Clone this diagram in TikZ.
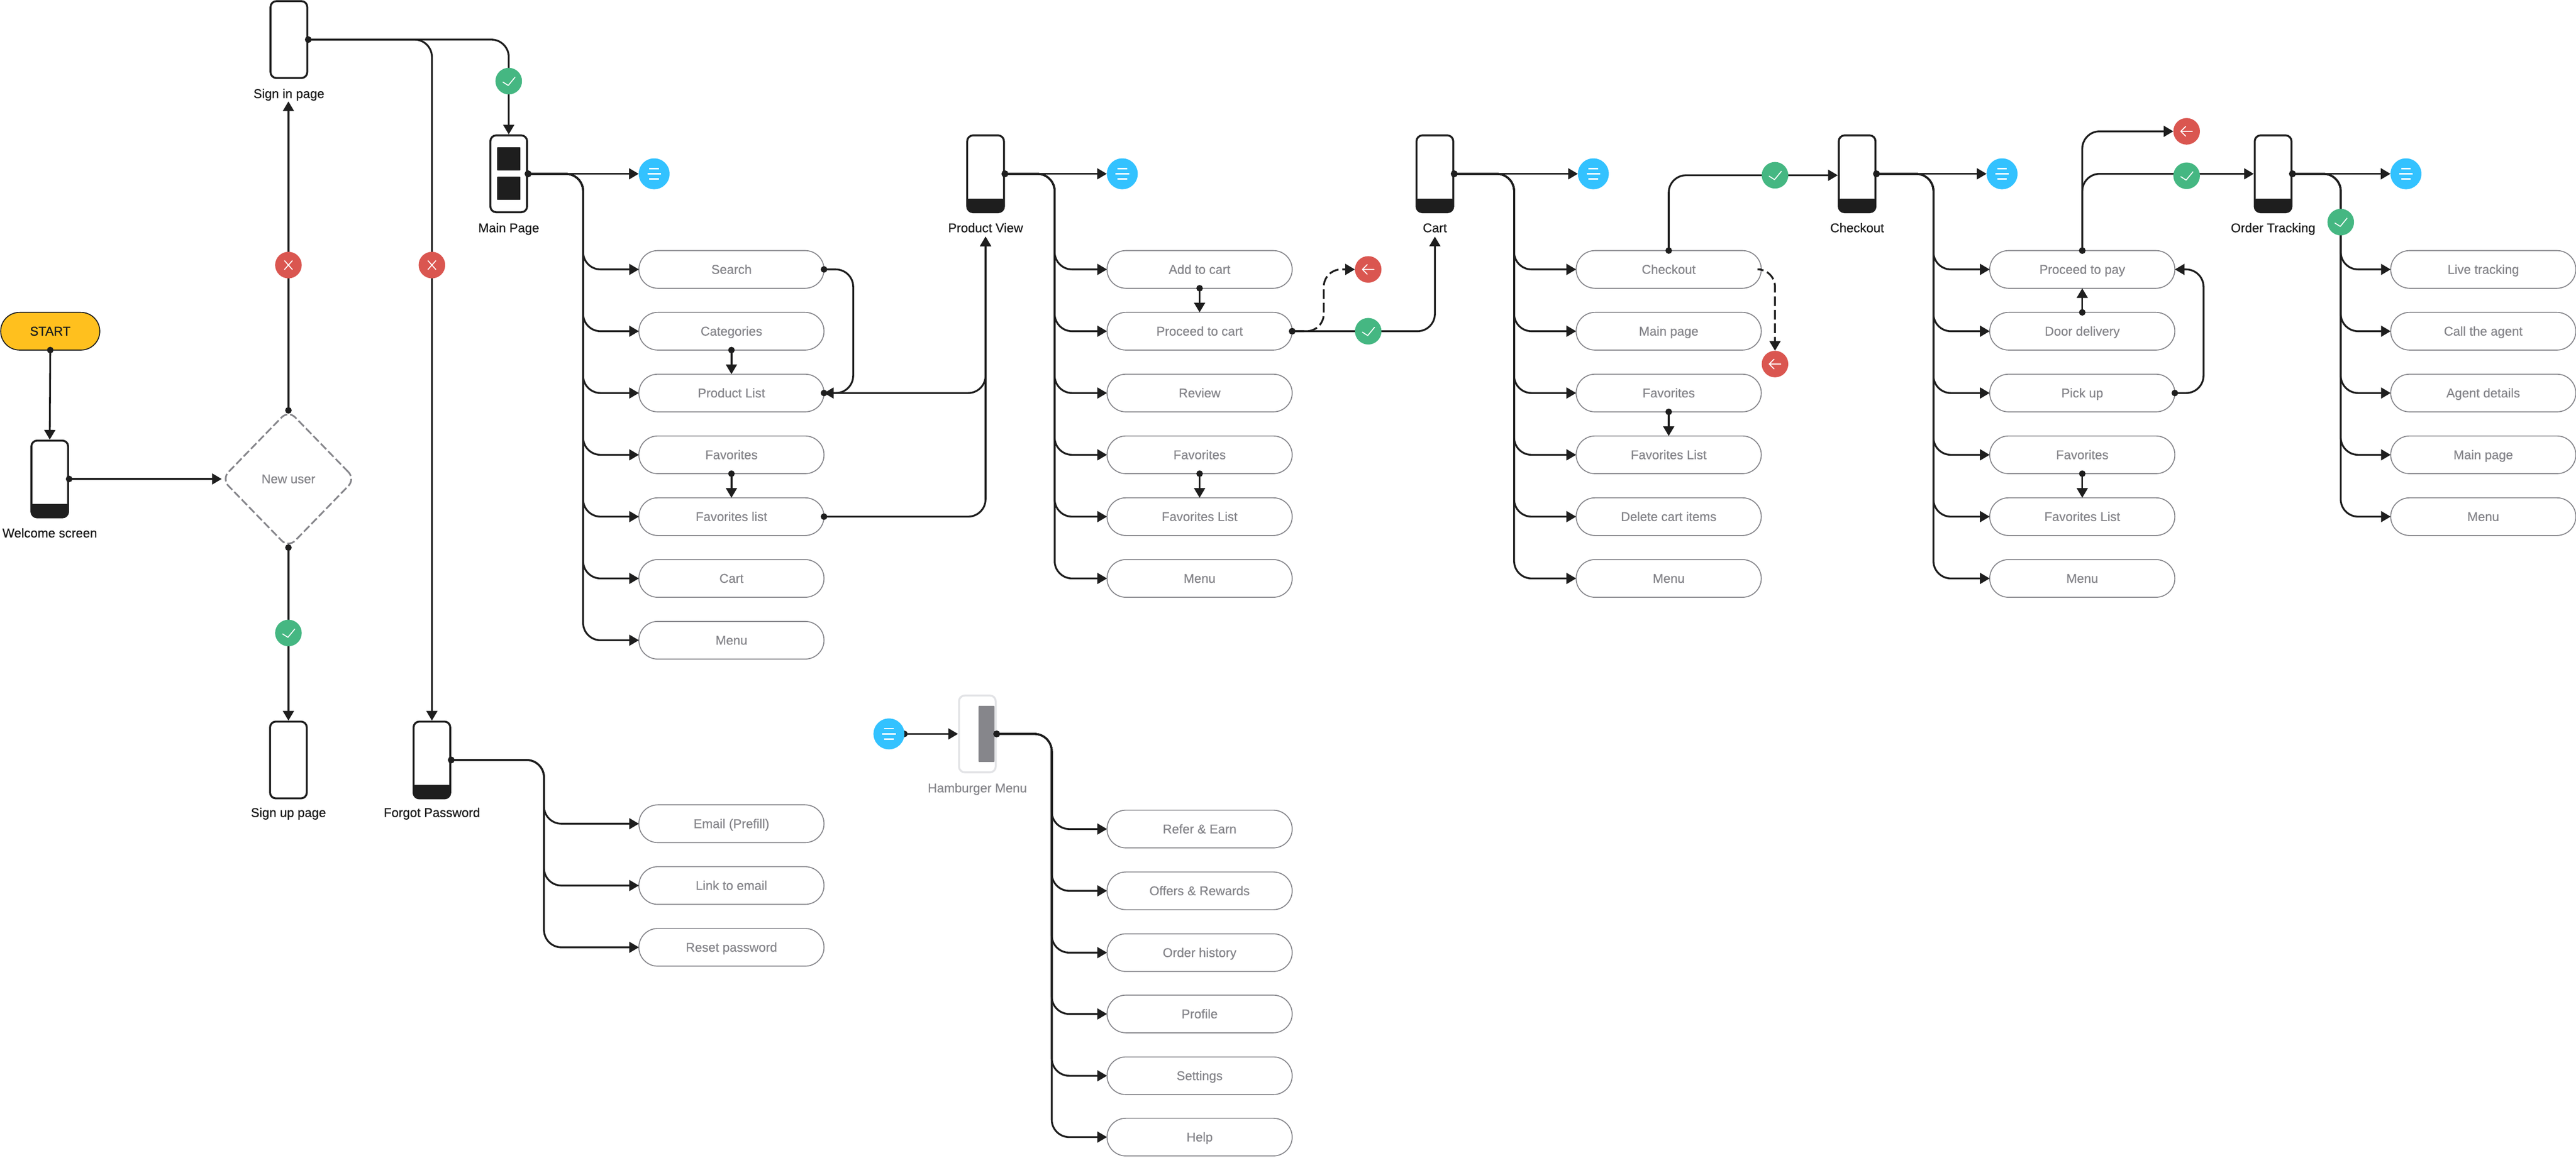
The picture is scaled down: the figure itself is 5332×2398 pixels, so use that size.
\documentclass[tikz,border=0pt]{standalone}
\usepackage{fontspec}
\usepackage{xcolor}
\usetikzlibrary{shapes,arrows.meta}
\newfontfamily\flowfont[FakeBold=0.7]{Liberation Sans}

\definecolor{ink}{HTML}{1E1E1E}
\definecolor{muted}{HTML}{86868B}
\definecolor{startfill}{HTML}{FFC01E}
\definecolor{okgreen}{HTML}{45B782}
\definecolor{backred}{HTML}{DA5650}
\definecolor{menublue}{HTML}{33C2FF}
\definecolor{ghost}{HTML}{E2E3E6}

\pgfdeclarelayer{front}
\pgfsetlayers{main,front}

\tikzset{
  every node/.style={outer sep=0pt, inner sep=0pt},
  phone/.style={draw=ink, line width=.04cm, rounded corners=.12cm, minimum width=.76cm, minimum height=1.59cm, outer sep=.02cm},
  phonebar/.style={phone, path picture={\fill[ink, rounded corners=.03cm] ([yshift=.28cm]path picture bounding box.south west) rectangle (path picture bounding box.south east);}},
  tile/.style={fill=ink, minimum width=.48cm, minimum height=.48cm, rounded corners=.01cm},
  phonelabel/.style={text=ink, font=\flowfont\fontsize{7.5}{9}\selectfont, text height=1.5ex, text depth=.3ex},
  pill/.style={draw=muted, line width=.02cm, shape=rounded rectangle, minimum width=3.83cm, minimum height=.78cm, text=muted, font=\flowfont\fontsize{7.5}{9}\selectfont, text height=1.5ex, text depth=.3ex},
  startpill/.style={pill, draw=ink, fill=startfill, text=ink, minimum width=2.05cm},
  decision/.style={shape=diamond, draw=muted, line width=.035cm, dash pattern=on .16cm off .06cm, rounded corners=.2cm, minimum width=2.76cm, minimum height=2.84cm, text=muted, font=\flowfont\fontsize{7.5}{9}\selectfont},
  badge/.style={circle, minimum size=.55cm},
  icon/.style={white, line width=.02cm, line cap=round, line join=round},
  okbadge/.style={badge, fill=okgreen, path picture={\draw[icon, shift={(path picture bounding box.center)}] (-12,2) -- (-1,9) -- (13,-8);}},
  nobadge/.style={badge, fill=backred, path picture={\draw[icon, shift={(path picture bounding box.center)}] (-8,-9) -- (8,9) (-8,9) -- (8,-9);}},
  backbadge/.style={badge, fill=backred, path picture={\draw[icon, shift={(path picture bounding box.center)}] (12,0) -- (-12,0) (-2,-10) -- (-12,0) -- (-2,10);}},
  menubadge/.style={circle, fill=menublue, minimum size=.64cm, path picture={\draw[icon, line width=.03cm, line cap=butt, shift={(path picture bounding box.center)}] (-10,-11) -- (10,-11) (-14,0) -- (14,0) (-10,11) -- (10,11);}},
  link/.style={draw=ink, line width=.038cm, rounded corners=.36cm},
  flow/.style={link, {Circle[length=3.8pt]}-{Triangle[length=5.7pt,width=6.4pt]}, shorten <=-1.9pt},
  dashflow/.style={flow, dash pattern=on .2cm off .08cm},
  dashend/.style={link, -{Triangle[length=5.7pt,width=6.4pt]}, dash pattern=on .2cm off .08cm}
}

\begin{document}
\begin{tikzpicture}[x=.01cm, y=-.01cm]
    \useasboundingbox (0,0) rectangle (5332,2398);

    % Entry and decision
    \node[startpill] (start) at (104,686) {START};
    \node[phonebar] (welcome) at (103,992) {};
    \node[phonelabel] (welcomelabel) at (103,1104) {Welcome screen};
    \node[decision] (newuser) at (597,992) {New user};
    \node[phone] (signin) at (598,82) {};
    \node[phonelabel] (signinlabel) at (598,194) {Sign in page};
    \node[phone] (signup) at (597,1574) {};
    \node[phonelabel] (signuplabel) at (597,1683) {Sign up page};
    \node[phonebar] (forgot) at (894,1574) {};
    \node[phonelabel] (forgotlabel) at (894,1683) {Forgot Password};

    % Screens along the top
    \node[phone] (main) at (1053,360) {};
    \node[tile] (maintop) at (1053,329) {};
    \node[tile] (mainbottom) at (1053,390) {};
    \node[phonelabel] (mainlabel) at (1053,472) {Main Page};
    \foreach \nm/\x/\txt in {view/2040/Product View, cart/2970/Cart, pay/3844/Checkout, track/4705/Order Tracking} {
        \node[phonebar] (\nm) at (\x,360) {};
        \node[phonelabel] (\nm label) at (\x,472) {\txt};
    }

    % Hamburger screen (greyed)
    \node[phone, draw=ghost] (burger) at (2023,1520) {};
    \node[fill=muted, minimum width=.33cm, minimum height=1.16cm, rounded corners=.01cm] (burgerpanel) at (2042,1520) {};
    \node[phonelabel, text=muted] (burgerlabel) at (2023,1632) {Hamburger Menu};

    % Option pills, one list per column
    \foreach \nm/\y/\txt in {search/558/Search, categories/686/Categories, plist/814/Product List, mainfav/942/Favorites, mainfavlist/1070/Favorites list, maincart/1198/Cart, mainmenu/1326/Menu, email/1706/Email (Prefill), maillink/1834/Link to email, reset/1962/Reset password}
        \node[pill] (\nm) at (1514,\y) {\txt};
    \foreach \nm/\y/\txt in {addcart/558/Add to cart, gocart/686/Proceed to cart, review/814/Review, viewfav/942/Favorites, viewfavlist/1070/Favorites List, viewmenu/1198/Menu, refer/1717/Refer \& Earn, offers/1845/Offers \& Rewards, history/1973/Order history, profile/2100/Profile, settings/2228/Settings, help/2355/Help}
        \node[pill] (\nm) at (2483,\y) {\txt};
    \foreach \nm/\y/\txt in {checkout/558/Checkout, cartmain/686/Main page, cartfav/814/Favorites, cartfavlist/942/Favorites List, delete/1070/Delete cart items, cartmenu/1198/Menu}
        \node[pill] (\nm) at (3454,\y) {\txt};
    \foreach \nm/\y/\txt in {gopay/558/Proceed to pay, door/686/Door delivery, pickup/814/Pick up, payfav/942/Favorites, payfavlist/1070/Favorites List, paymenu/1198/Menu}
        \node[pill] (\nm) at (4310,\y) {\txt};
    \foreach \nm/\y/\txt in {live/558/Live tracking, agent/686/Call the agent, details/814/Agent details, trackmain/942/Main page, trackmenu/1070/Menu}
        \node[pill] (\nm) at (5140,\y) {\txt};

    % Badges sit above the lines
    \begin{pgfonlayer}{front}
        \node[okbadge] (okmain) at (1053,168) {};
        \node[nobadge] (nosignin) at (597,549) {};
        \node[nobadge] (noforgot) at (894,549) {};
        \node[okbadge] (oksignup) at (597,1311) {};
        \node[backbadge] (backadd) at (2832,558) {};
        \node[okbadge] (okcart) at (2832,686) {};
        \node[okbadge] (okpay) at (3674,363) {};
        \node[backbadge] (backcheckout) at (3674,754) {};
        \node[backbadge] (backpay) at (4526,272) {};
        \node[okbadge] (oktrack) at (4526,364) {};
        \node[okbadge] (oklive) at (4845,460) {};
        \foreach \nm/\x in {mainmenub/1354, viewmenub/2323, cartmenub/3298, paymenub/4144, trackmenub/4980}
            \node[menubadge] (\nm) at (\x,360) {};
        \node[menubadge] (burgermenub) at (1840,1520) {};
    \end{pgfonlayer}

    % Bus lines and loose ends
    \coordinate (signinbus) at (894,82);
    \coordinate (signintop) at (1053,82);
    \coordinate (mainbus) at (1207,360);
    \coordinate (forgotbus) at (1126,1574);
    \coordinate (viewbus) at (2183,360);
    \coordinate (burgerbus) at (2177,1520);
    \coordinate (cartbus) at (3134,360);
    \coordinate (paybus) at (4002,360);
    \coordinate (trackbus) at (4845,360);
    \coordinate (viewin) at (2040,490);
    \coordinate (cartin) at (2970,490);
    \coordinate (signinin) at (597,210);
    \coordinate (payin) at (3804,363);
    \coordinate (searchturn) at (1766,558);
    \coordinate (pickturn) at (4561,814);
    \coordinate (gocartturn) at (2740,686);
    \coordinate (checkoutturn) at (3674,558);

    % Entry flow
    \draw[flow] (start.south) -- (welcome.north);
    \draw[flow] (welcome.east) -- (newuser.west);
    \draw[flow] (newuser.north) -- (signinin);
    \draw[flow] (newuser.south) -- (signup.north);
    \draw[flow] (signin.east) -- (signinbus) -- (forgot.north);
    \draw[flow] (signin.east) -- (signintop) -- (main.north);

    % Lists hanging off each screen
    \foreach \nm in {search, categories, plist, mainfav, mainfavlist, maincart, mainmenu}
        \draw[flow] (main.east) -- (mainbus) |- (\nm.west);
    \foreach \nm in {email, maillink, reset}
        \draw[flow] (forgot.east) -- (forgotbus) |- (\nm.west);
    \foreach \nm in {addcart, gocart, review, viewfav, viewfavlist, viewmenu}
        \draw[flow] (view.east) -- (viewbus) |- (\nm.west);
    \foreach \nm in {refer, offers, history, profile, settings, help}
        \draw[flow] (burger.east) -- (burgerbus) |- (\nm.west);
    \foreach \nm in {checkout, cartmain, cartfav, cartfavlist, delete, cartmenu}
        \draw[flow] (cart.east) -- (cartbus) |- (\nm.west);
    \foreach \nm in {gopay, door, pickup, payfav, payfavlist, paymenu}
        \draw[flow] (pay.east) -- (paybus) |- (\nm.west);
    \foreach \nm in {live, agent, details, trackmain, trackmenu}
        \draw[flow] (track.east) -- (trackbus) |- (\nm.west);

    % Menu buttons
    \draw[flow] (main.east) -- (mainmenub.west);
    \draw[flow] (view.east) -- (viewmenub.west);
    \draw[flow] (cart.east) -- (cartmenub.west);
    \draw[flow] (pay.east) -- (paymenub.west);
    \draw[flow] (track.east) -- (trackmenub.west);
    \draw[flow] (burgermenub.east) -- (burger.west);

    % Short hops between pills
    \foreach \a/\b in {categories/plist, mainfav/mainfavlist, addcart/gocart, viewfav/viewfavlist, cartfav/cartfavlist, payfav/payfavlist}
        \draw[flow] (\a.south) -- (\b.north);
    \draw[flow] (door.north) -- (gopay.south);
    \draw[flow] (search.east) -- (searchturn) |- (plist.east);
    \draw[flow] (pickup.east) -- (pickturn) |- (gopay.east);

    % Forward and back moves
    \draw[flow] (plist.east) -| (viewin);
    \draw[flow] (mainfavlist.east) -| (viewin);
    \draw[flow] (gocart.east) -| (cartin);
    \draw[dashflow] (gocart.east) -- (gocartturn) |- (backadd.west);
    \draw[flow] (checkout.north) |- (payin);
    \draw[dashend] (checkout.east) -- (checkoutturn) -- (backcheckout.north);
    \draw[flow] (gopay.north) |- (backpay.west);
    \draw[flow] (gopay.north) |- (track.west);
\end{tikzpicture}
\end{document}
